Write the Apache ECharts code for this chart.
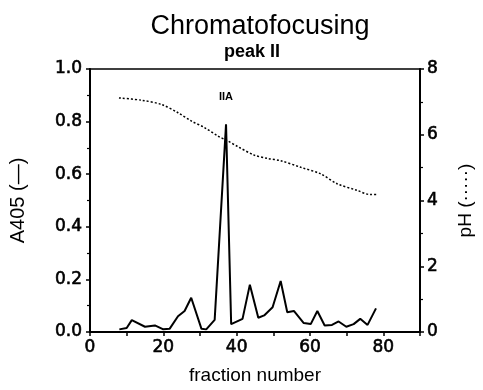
<!DOCTYPE html>
<html><head><meta charset="utf-8">
<script src="https://cdn.jsdelivr.net/npm/echarts@6/dist/echarts.min.js"></script>
<style>html,body{margin:0;padding:0;background:#fff}#c{width:483px;height:390px}</style>
</head><body><div id="c"></div>
<script>
const fractionA = [8, 10, 11.4, 15, 17.7, 20, 21.7, 24, 25.8, 27.6, 30.4, 31.7, 34, 37.1, 38.5, 41.6, 43.6, 45.9, 47.5, 49.8, 52, 53.8, 55.6, 58.3, 60.2, 62, 64, 66, 67.8, 69.9, 71.9, 73.7, 75.7, 78];
const a405 = [0.01, 0.015, 0.045, 0.02, 0.025, 0.01, 0.012, 0.06, 0.08, 0.13, 0.012, 0.01, 0.046, 0.79, 0.03, 0.05, 0.18, 0.054, 0.063, 0.094, 0.194, 0.075, 0.08, 0.034, 0.03, 0.08, 0.025, 0.027, 0.04, 0.02, 0.03, 0.05, 0.027, 0.09];
const fractionPH = [7.9, 14.1, 19.5, 24, 27.6, 31.2, 34.9, 37.6, 40.3, 44.8, 48.4, 52, 57.5, 62.9, 67.4, 72.8, 76.4, 78.2];
const pH = [7.12, 7.05, 6.92, 6.67, 6.42, 6.22, 5.96, 5.81, 5.64, 5.38, 5.28, 5.21, 5.01, 4.81, 4.51, 4.31, 4.18, 4.18];
const titleText = 'Chromatofocusing';
const subtitleText = 'peak II';
const peakLabel = 'IIA';

const F = 'Liberation Sans, Arial, sans-serif';
const T = 'DejaVu Sans, sans-serif';
const tickLabel = {fontFamily: T, fontSize: 17, fontWeight: 'normal', color: '#000',
  textBorderColor: '#000', textBorderWidth: 0.6};
const chart = echarts.init(document.getElementById('c'));
chart.setOption({
  animation: false,
  backgroundColor: '#fff',
  title: [{
    text: titleText, left: 255, textAlign: 'center', top: 8,
    textStyle: {fontFamily: F, fontSize: 27, fontWeight: 'normal', color: '#000'}
  }, {
    text: subtitleText, left: 247, textAlign: 'center', top: 38,
    textStyle: {fontFamily: F, fontSize: 18, fontWeight: 'bold', color: '#000'}
  }],
  grid: {left: 88, right: 62, top: 69, bottom: 55, show: true, borderColor: '#000', borderWidth: 1.5},
  xAxis: {
    type: 'value', min: 0, max: 90, interval: 10,
    name: 'fraction number', nameLocation: 'middle', nameGap: 34,
    nameTextStyle: {fontFamily: F, fontSize: 19, color: '#000'},
    axisLine: {lineStyle: {color: '#000', width: 2}},
    axisTick: {show: true, length: 4, lineStyle: {color: '#000', width: 1.5}},
    axisLabel: Object.assign({margin: 7,
      formatter: v => (v % 20 === 0 && v <= 80) ? String(v) : ''}, tickLabel),
    splitLine: {show: false}
  },
  yAxis: [{
    type: 'value', min: 0, max: 1, interval: 0.2, position: 'left',
    name: 'A405 (—)', nameLocation: 'middle', nameGap: 62, nameRotate: 90,
    nameTextStyle: {fontFamily: F, fontSize: 20, color: '#000'},
    axisLine: {show: true, lineStyle: {color: '#000', width: 2}},
    axisTick: {show: true, length: 4, lineStyle: {color: '#000', width: 1.5}},
    minorTick: {show: true, splitNumber: 2, length: 3, lineStyle: {color: '#000', width: 1.2}},
    axisLabel: Object.assign({margin: 8, formatter: v => v.toFixed(1)}, tickLabel),
    splitLine: {show: false}
  }, {
    type: 'value', min: 0, max: 8, interval: 2, position: 'right',
    name: 'pH (·····)', nameLocation: 'middle', nameGap: 36, nameRotate: 90,
    nameTextStyle: {fontFamily: F, fontSize: 19, color: '#000'},
    axisLine: {show: true, lineStyle: {color: '#000', width: 2}},
    axisTick: {show: true, length: 4, lineStyle: {color: '#000', width: 1.5}},
    minorTick: {show: true, splitNumber: 2, length: 3, lineStyle: {color: '#000', width: 1.2}},
    axisLabel: Object.assign({margin: 7}, tickLabel),
    splitLine: {show: false}
  }],
  series: [{
    type: 'line', yAxisIndex: 0, symbol: 'none',
    data: fractionA.map((x, i) => [x, a405[i]]),
    lineStyle: {color: '#000', width: 2},
    markPoint: {
      symbol: 'circle', symbolSize: 0,
      data: [{type: 'max', name: 'peak'}],
      label: {show: true, formatter: peakLabel, position: 'top', distance: 22,
        fontFamily: F, fontSize: 11, fontWeight: 'bold', color: '#000'}
    }
  }, {
    type: 'line', yAxisIndex: 1, symbol: 'none', smooth: 0.3,
    data: fractionPH.map((x, i) => [x, pH[i]]),
    lineStyle: {color: '#000', width: 1.5, type: [2, 2]}
  }]
});
</script></body></html>
